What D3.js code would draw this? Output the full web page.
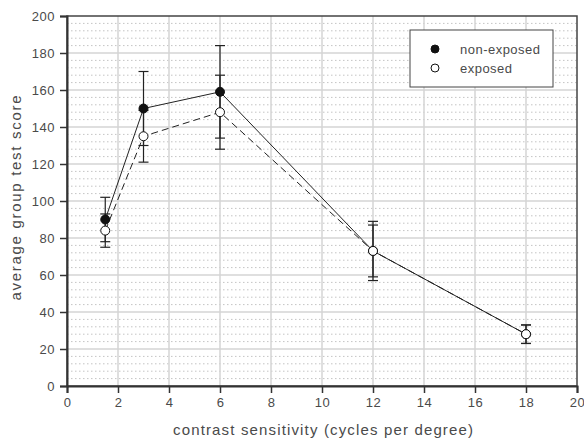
<!DOCTYPE html>
<html>
<head>
<meta charset="utf-8">
<script src="https://cdnjs.cloudflare.com/ajax/libs/d3/7.8.5/d3.min.js"></script>
<style>
  body { margin: 0; background: #fff; }
  text { font-family: "Liberation Sans", Arial, sans-serif; fill: #4a4a4a; }
</style>
</head>
<body>
<div id="chart"></div>
<script>
// data
var frequencies = [1.5, 3, 6, 12, 18];
var nonExposed = [90, 150, 159, 73, 28];
var nonExposedErr = [12, 20, 25, 16, 5];
var exposed = [84, 135, 148, 73, 28];
var exposedErr = [9, 14, 20, 14, 5];
var xTicks = [0, 2, 4, 6, 8, 10, 12, 14, 16, 18, 20];
var yTicks = [0, 20, 40, 60, 80, 100, 120, 140, 160, 180, 200];

var svgWidth = 584, svgHeight = 440;
var margin = { top: 16, right: 7, bottom: 54, left: 67 };
var width = svgWidth - margin.left - margin.right;
var height = svgHeight - margin.top - margin.bottom;

var svg = d3.select("#chart").append("svg")
  .attr("width", svgWidth)
  .attr("height", svgHeight);

var chartGroup = svg.append("g")
  .attr("transform", `translate(${margin.left}, ${margin.top})`);

var x = d3.scaleLinear().domain([0, 20]).range([0, width]);
var y = d3.scaleLinear().domain([0, 200]).range([height, 0]);

// minor dotted grid (every 4 units)
chartGroup.append("g")
  .selectAll("line")
  .data(d3.range(0, 200, 4).filter(d => d % 20 !== 0))
  .enter().append("line")
  .attr("x1", 0).attr("x2", width)
  .attr("y1", d => y(d)).attr("y2", d => y(d))
  .attr("stroke", "#c4c4c4")
  .attr("stroke-dasharray", "1.5,2.5");

// major grid
chartGroup.append("g")
  .selectAll("line")
  .data(yTicks.slice(1, -1))
  .enter().append("line")
  .attr("x1", 0).attr("x2", width)
  .attr("y1", d => y(d)).attr("y2", d => y(d))
  .attr("stroke", "#d4d4d4").attr("stroke-width", 1.5);

chartGroup.append("g")
  .selectAll("line")
  .data(xTicks.slice(1, -1))
  .enter().append("line")
  .attr("y1", 0).attr("y2", height)
  .attr("x1", d => x(d)).attr("x2", d => x(d))
  .attr("stroke", "#d4d4d4").attr("stroke-width", 1.5);

// frame
chartGroup.append("rect")
  .attr("width", width).attr("height", height)
  .attr("fill", "none").attr("stroke", "#444").attr("stroke-width", 1.5);

// axes
var xAxis = chartGroup.append("g")
  .attr("transform", `translate(0, ${height})`)
  .call(d3.axisBottom(x).tickValues(xTicks).tickSize(7).tickPadding(5));
var yAxis = chartGroup.append("g")
  .call(d3.axisLeft(y).tickValues(yTicks).tickSize(7).tickPadding(5));

[xAxis, yAxis].forEach(function(ax) {
  ax.select(".domain").attr("stroke", "#333").attr("stroke-width", 2);
  ax.selectAll(".tick line").attr("stroke", "#333").attr("stroke-width", 1.5);
  ax.selectAll(".tick text").attr("font-size", 13)
    .style("font-family", "Liberation Sans, Arial, sans-serif")
    .style("letter-spacing", "0.5px")
    .attr("fill", "#4a4a4a");
});

// axis titles
svg.append("text")
  .attr("x", margin.left + width / 2 + 1)
  .attr("y", 435)
  .attr("text-anchor", "middle")
  .attr("font-size", 15)
  .attr("textLength", 300)
  .attr("lengthAdjust", "spacing")
  .text("contrast sensitivity (cycles per degree)");

svg.append("text")
  .attr("transform", `translate(21, 198) rotate(-90)`)
  .attr("text-anchor", "middle")
  .attr("font-size", 15)
  .attr("textLength", 205)
  .attr("lengthAdjust", "spacing")
  .text("average group test score");

var series = [
  { values: nonExposed, err: nonExposedErr, dash: null, fill: "#111" },
  { values: exposed, err: exposedErr, dash: "7,4", fill: "#fff" }
];

var line = d3.line()
  .x(d => x(d[0]))
  .y(d => y(d[1]));

series.forEach(function(s) {
  var pts = frequencies.map((f, i) => [f, s.values[i], s.err[i]]);

  chartGroup.append("path")
    .datum(pts)
    .attr("d", line)
    .attr("fill", "none")
    .attr("stroke", "#222")
    .attr("stroke-width", 1)
    .attr("stroke-dasharray", s.dash);

  var bars = chartGroup.append("g").selectAll("g")
    .data(pts).enter().append("g")
    .attr("stroke", "#222").attr("stroke-width", 1.2);
  bars.append("line")
    .attr("x1", d => x(d[0])).attr("x2", d => x(d[0]))
    .attr("y1", d => y(d[1] - d[2])).attr("y2", d => y(d[1] + d[2]));
  bars.append("line")
    .attr("x1", d => x(d[0]) - 5).attr("x2", d => x(d[0]) + 5)
    .attr("y1", d => y(d[1] + d[2])).attr("y2", d => y(d[1] + d[2]));
  bars.append("line")
    .attr("x1", d => x(d[0]) - 5).attr("x2", d => x(d[0]) + 5)
    .attr("y1", d => y(d[1] - d[2])).attr("y2", d => y(d[1] - d[2]));
});

series.forEach(function(s) {
  chartGroup.append("g").selectAll("circle")
    .data(frequencies.map((f, i) => [f, s.values[i]]))
    .enter().append("circle")
    .attr("cx", d => x(d[0]))
    .attr("cy", d => y(d[1]))
    .attr("r", 4.5)
    .attr("fill", s.fill)
    .attr("stroke", "#111")
    .attr("stroke-width", 1);
});

// legend
var legend = svg.append("g");
legend.append("rect")
  .attr("x", 410).attr("y", 30).attr("width", 143).attr("height", 57)
  .attr("fill", "#fff").attr("stroke", "#444").attr("stroke-width", 1);
var legendItems = [
  { label: "non-exposed", fill: "#111", len: 80 },
  { label: "exposed", fill: "#fff", len: 52 }
];
legendItems.forEach(function(item, i) {
  legend.append("circle")
    .attr("cx", 435).attr("cy", 49 + i * 19).attr("r", 4)
    .attr("fill", item.fill).attr("stroke", "#111");
  legend.append("text")
    .attr("x", 460).attr("y", 49 + i * 19)
    .attr("dy", "0.35em")
    .attr("font-size", 13)
    .attr("textLength", item.len)
    .attr("lengthAdjust", "spacing")
    .text(item.label);
});
</script>
</body>
</html>
